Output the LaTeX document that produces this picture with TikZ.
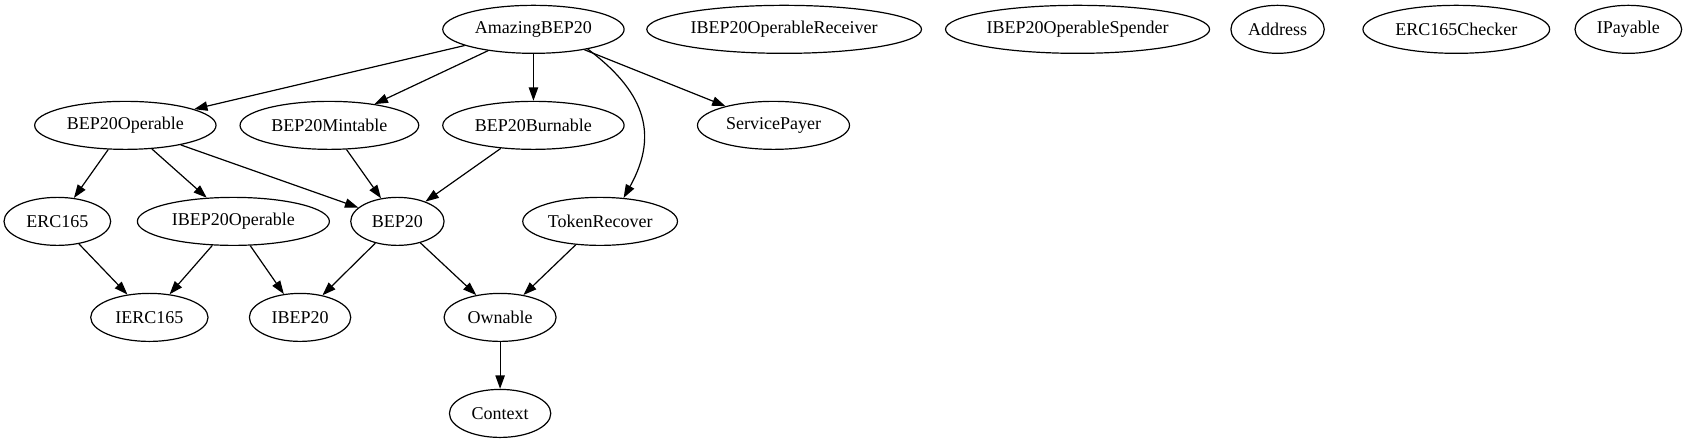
\documentclass[tikz,border=0pt]{standalone}
\usepackage{fontspec}
\setmainfont{Liberation Serif}
\usepackage{tikz}
\usetikzlibrary{shapes.geometric,arrows.meta}

\begin{document}
\begin{tikzpicture}[
  x=1pt, y=-1pt,
  font=\fontsize{13.5}{15}\selectfont,
  cls/.style={draw, ellipse, inner sep=0pt, minimum height=36pt, line width=0.9pt},
  arr/.style={-{Triangle[length=10pt,width=7pt]}, line width=0.9pt}]

\useasboundingbox (0,0) rectangle (1265,332);

% top rank
\node[cls, minimum width=136pt] (amazing) at (400,22) {AmazingBEP20};
\node[cls, minimum width=206pt] (recv) at (588,22) {IBEP20OperableReceiver};
\node[cls, minimum width=198pt] (spender) at (808,22) {IBEP20OperableSpender};
\node[cls, minimum width=70pt] (address) at (958,22) {Address};
\node[cls, minimum width=140pt] (checker) at (1092,22) {ERC165Checker};
\node[cls, minimum width=80pt] (ipayable) at (1221,22) {IPayable};

\node[cls, minimum width=136pt] (operable) at (94,94) {BEP20Operable};
\node[cls, minimum width=134pt] (mintable) at (247,94) {BEP20Mintable};
\node[cls, minimum width=136pt] (burnable) at (400,94) {BEP20Burnable};
\node[cls, minimum width=114pt] (payer) at (580,94) {ServicePayer};

\node[cls, minimum width=80pt] (erc) at (43,166) {ERC165};
\node[cls, minimum width=144pt] (ioperable) at (175,166) {IBEP20Operable};
\node[cls, minimum width=70pt] (bep) at (298,166) {BEP20};
\node[cls, minimum width=116pt] (recover) at (450,166) {TokenRecover};

\node[cls, minimum width=88pt] (ierc) at (112,238) {IERC165};
\node[cls, minimum width=76pt] (ibep) at (225,238) {IBEP20};
\node[cls, minimum width=84pt] (ownable) at (375,238) {Ownable};

\node[cls, minimum width=76pt] (context) at (375,310) {Context};

% inheritance
\draw[arr] (amazing) -- (operable);
\draw[arr] (amazing) -- (mintable);
\draw[arr] (amazing) -- (burnable);
\draw[arr] (amazing) -- (payer);
\draw[arr] (amazing.-20) .. controls +(40,30) and +(28,-50) .. (recover.45);
\draw[arr] (operable) -- (erc);
\draw[arr] (operable) -- (ioperable);
\draw[arr] (operable) -- (bep);
\draw[arr] (mintable) -- (bep);
\draw[arr] (burnable) -- (bep);
\draw[arr] (erc) -- (ierc);
\draw[arr] (ioperable) -- (ierc);
\draw[arr] (ioperable) -- (ibep);
\draw[arr] (bep) -- (ibep);
\draw[arr] (bep) -- (ownable);
\draw[arr] (recover) -- (ownable);
\draw[arr] (ownable) -- (context);
\end{tikzpicture}
\end{document}
